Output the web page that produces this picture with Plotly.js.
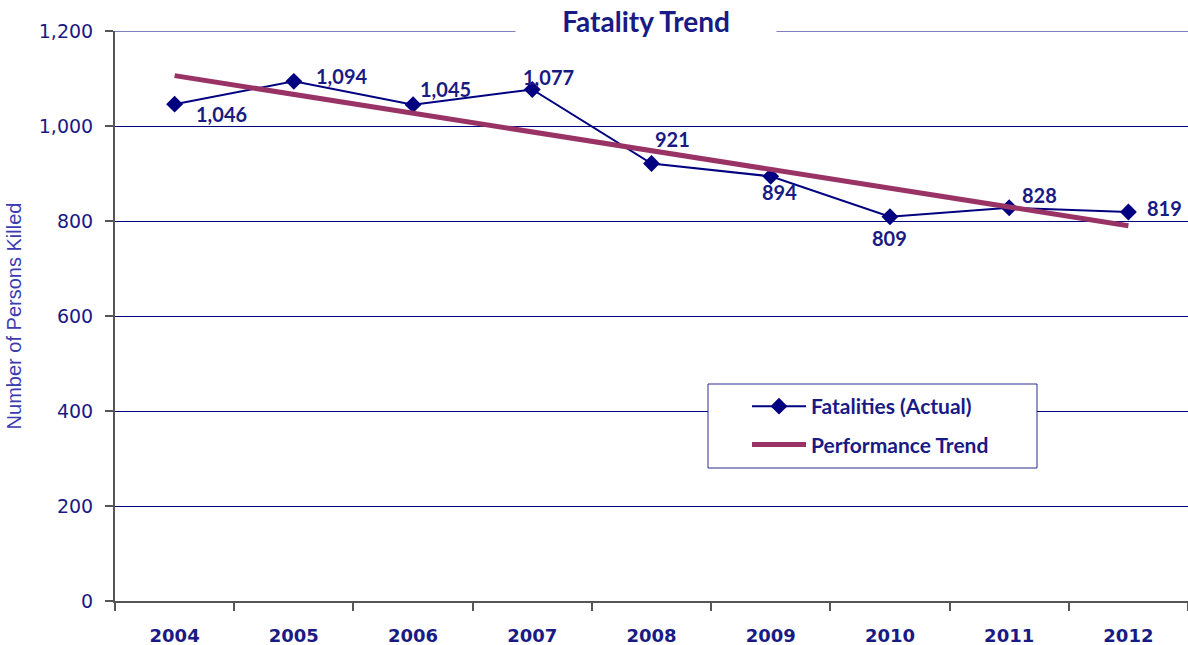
<!DOCTYPE html>
<html>
<head>
<meta charset="utf-8">
<script src="https://cdn.plot.ly/plotly-3.0.1.min.js"></script>
<style>html,body{margin:0;padding:0;background:#fff;}#chart{width:1188px;height:645px;}</style>
</head>
<body>
<div id="chart"></div>
<script>
// Data
const years = ["2004","2005","2006","2007","2008","2009","2010","2011","2012"];
const fatalities = [1046, 1094, 1045, 1077, 921, 894, 809, 828, 819];
const trendYears = ["2004", "2012"];
const trendValues = [1106, 790];
const yTicks = [0, 200, 400, 600, 800, 1000, 1200];
const yTickLabels = ["0", "200", "400", "600", "800", "1,000", "1,200"];

// label offsets in px (style only)
const labelShifts = [[47,-10],[48,5],[32,16],[16,12],[21,25],[9,-16],[0,-21],[30,13],[36,4]];

const navy = "#000080";
const textNavy = "#1a1a84";
const labelFont = "Lato, 'Open Sans', sans-serif";

const traces = [
  {
    x: years, y: fatalities, type: "scatter", mode: "lines+markers",
    name: "Fatalities (Actual)", legendgroup: "a",
    line: {color: navy, width: 2},
    marker: {symbol: "diamond", size: 13, color: navy}
  },
  {
    x: trendYears, y: trendValues, type: "scatter", mode: "lines",
    name: "Performance Trend", legendgroup: "b",
    line: {color: "#993366", width: 5}
  }
];

const annotations = fatalities.map((v, i) => ({
  x: i, y: v, xref: "x", yref: "y",
  text: v.toLocaleString("en-US"), showarrow: false,
  xanchor: "center", yanchor: "middle",
  xshift: labelShifts[i][0], yshift: labelShifts[i][1],
  font: {family: labelFont, size: 20, color: textNavy, weight: 700}
}));
annotations.push({
  text: "<b>Fatality Trend</b>", xref: "paper", yref: "paper",
  x: (646 - 115) / 1073, y: 1 + (31 - 21) / 570, xanchor: "center", yanchor: "middle",
  showarrow: false, bgcolor: "#ffffff", width: 258, height: 38,
  font: {family: labelFont, size: 28, color: textNavy}
});

// top frame line and legend frame (decorative)
const shapes = [
  {type: "line", xref: "paper", yref: "y", x0: 0, x1: 1, y0: 1200, y1: 1200,
   line: {color: navy, width: 1}, layer: "below"},
  {type: "rect", xref: "paper", yref: "paper",
   x0: (708 - 115) / 1073, x1: (1037 - 115) / 1073,
   y0: (601 - 468) / 570, y1: (601 - 384) / 570,
   fillcolor: "#ffffff", line: {color: "#2a2a90", width: 1}, layer: "above"}
];

const layout = {
  width: 1188, height: 645,
  margin: {l: 115, r: 0, t: 31, b: 44},
  paper_bgcolor: "#ffffff", plot_bgcolor: "#ffffff",
  showlegend: true,
  legend: {
    x: (747 - 115) / 1073, y: (601 - 386) / 570, xanchor: "left", yanchor: "top",
    bgcolor: "rgba(0,0,0,0)", borderwidth: 0,
    font: {family: labelFont, size: 21, color: textNavy, weight: 700},
    tracegroupgap: 8, itemwidth: 54
  },
  xaxis: {
    type: "category", range: [-0.5, 8.5],
    showgrid: false, showline: true, linecolor: "#555555", linewidth: 2,
    ticks: "outside", tickson: "boundaries", ticklen: 8, tickcolor: "#555555", tickwidth: 2,
    tickfont: {family: "'DejaVu Sans', sans-serif", size: 18, color: textNavy, weight: 700},
    ticklabelstandoff: 17
  },
  yaxis: {
    range: [0, 1200], tickvals: yTicks, ticktext: yTickLabels,
    showgrid: true, gridcolor: navy, gridwidth: 1, zeroline: false,
    showline: true, linecolor: "#555555", linewidth: 2,
    ticks: "outside", ticklen: 8, tickcolor: "#555555", tickwidth: 2,
    tickfont: {family: "'DejaVu Sans', sans-serif", size: 19, color: textNavy},
    ticklabelstandoff: 8,
    title: {text: "Number of Persons Killed", standoff: 12,
      font: {family: "'Liberation Sans', Arial, sans-serif", size: 20, color: "#3c3cb0"}}
  },
  shapes: shapes,
  annotations: annotations
};

Plotly.newPlot("chart", traces, layout, {displayModeBar: false, staticPlot: true});
</script>
</body>
</html>
